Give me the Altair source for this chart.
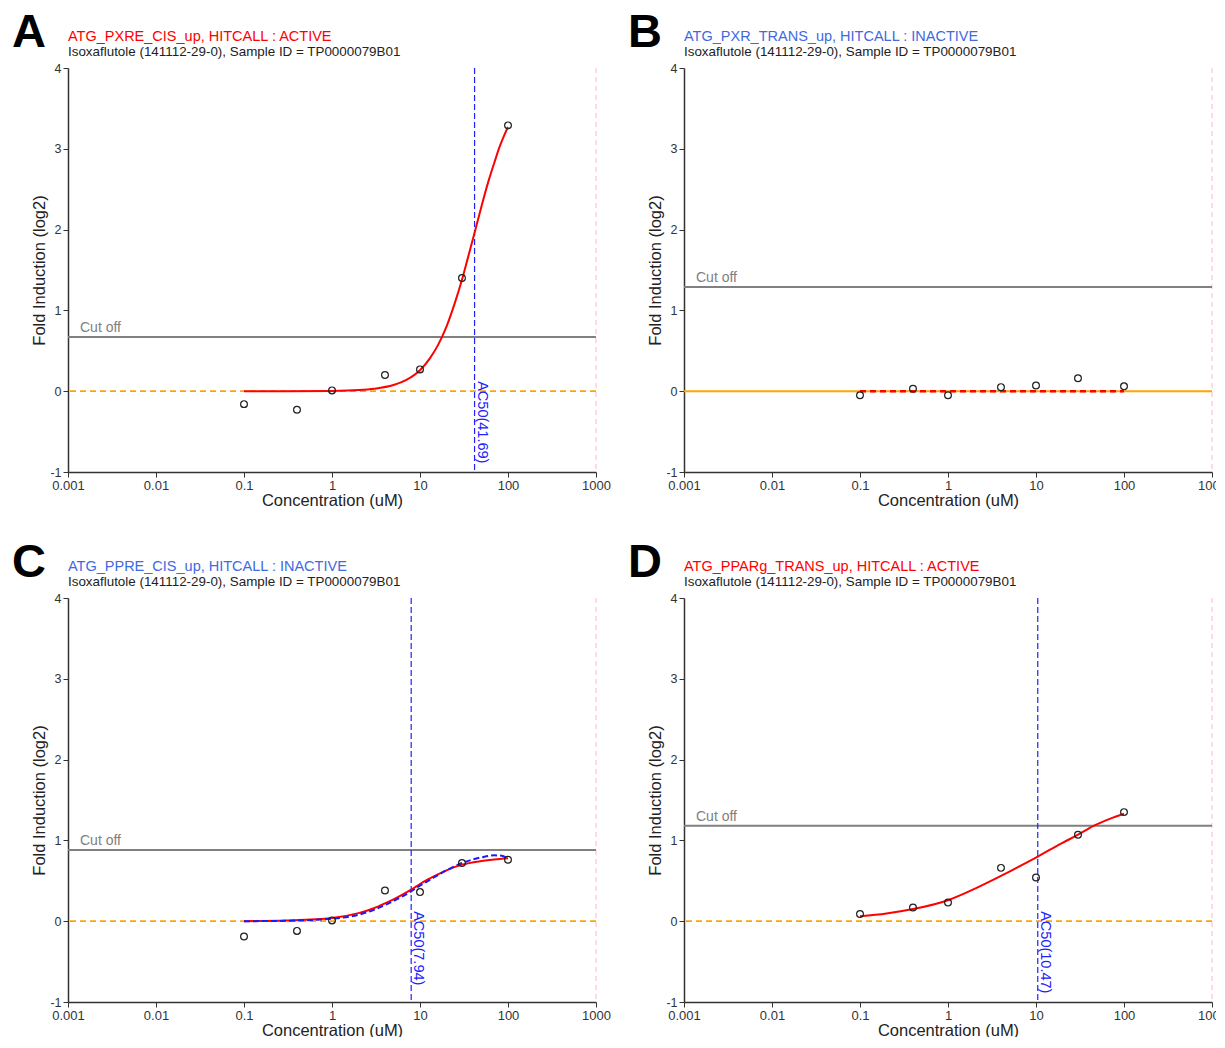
import altair as alt
import pandas as pd

# ---------------- data ----------------
conc = [0.1, 0.4, 1, 4, 10, 30, 100]

resp_A = [-0.16, -0.23, 0.01, 0.20, 0.27, 1.40, 3.29]
resp_B = [-0.05, 0.03, -0.05, 0.05, 0.07, 0.16, 0.06]
resp_C = [-0.19, -0.12, 0.01, 0.38, 0.36, 0.72, 0.76]
resp_D = [0.09, 0.17, 0.23, 0.66, 0.54, 1.07, 1.35]

fit_conc_A = [0.1, 0.3, 1, 2, 3, 5, 7, 10, 13, 16, 20, 25, 30, 35, 41.69, 50, 60, 70, 80, 90, 100]
fit_resp_A = [0.0, 0.0, 0.004, 0.014, 0.03, 0.076, 0.14, 0.26, 0.41, 0.57, 0.80, 1.10, 1.38, 1.65,
              1.96, 2.29, 2.60, 2.83, 3.02, 3.16, 3.27]

fit_conc_B = [0.1, 100]
fit_resp_B = [0.0, 0.0]

fit_conc_C = [0.1, 0.3, 1, 2, 3, 4, 5, 7.94, 10, 12, 20, 30, 50, 70, 100]
fit_resp_C = [0.0, 0.01, 0.04, 0.10, 0.16, 0.22, 0.27, 0.39, 0.46, 0.51, 0.63, 0.70, 0.745, 0.765, 0.78]

fit2_conc_C = [0.1, 0.3, 1, 2, 3, 4, 5, 7.94, 10, 12, 20, 30, 50, 70, 85, 100]
fit2_resp_C = [0.0, 0.005, 0.03, 0.08, 0.14, 0.20, 0.25, 0.37, 0.44, 0.49, 0.63, 0.72, 0.79, 0.815, 0.81, 0.77]

fit_conc_D = [0.1, 0.2, 0.4, 1, 2, 4, 6, 10.47, 20, 30, 45, 70, 100]
fit_resp_D = [0.06, 0.095, 0.15, 0.26, 0.40, 0.56, 0.66, 0.80, 0.97, 1.07, 1.18, 1.27, 1.33]

letters = ["A", "B", "C", "D"]
assays = ["ATG_PXRE_CIS_up", "ATG_PXR_TRANS_up", "ATG_PPRE_CIS_up", "ATG_PPARg_TRANS_up"]
hitcalls = ["ACTIVE", "INACTIVE", "INACTIVE", "ACTIVE"]
cutoffs = [0.67, 1.29, 0.88, 1.18]
ac50s = [41.69, None, 7.94, 10.47]
subtitle = "Isoxaflutole (141112-29-0), Sample ID = TP0000079B01"

x_ticks = [0.001, 0.01, 0.1, 1, 10, 100, 1000]
y_ticks = [-1, 0, 1, 2, 3, 4]

# ---------------- styling ----------------
FONT = "Liberation Sans"
RED = "#ff0000"
BLUE_TITLE = "#4169e1"
AC50_BLUE = "#2020ff"

xs = alt.Scale(type="log", domain=[0.001, 1000])
ys = alt.Scale(domain=[-1, 4], nice=False, zero=False)

xaxis = alt.Axis(values=x_ticks, format="~g", grid=False, tickSize=5, tickColor="#333",
                 domainColor="#333", domainWidth=1.5, labelFontSize=13, labelColor="#333",
                 labelPadding=2, labelFlush=False, labelOverlap=False,
                 titleFontSize=16.5, titleFontWeight="normal", titleColor="#222",
                 titlePadding=0)
yaxis = alt.Axis(values=y_ticks, labelExpr="'' + datum.value", grid=False, tickSize=5,
                 tickColor="#333", domainColor="#333", domainWidth=1.5, labelFontSize=12.5,
                 labelColor="#333", labelPadding=2, labelFlush=False,
                 titleFontSize=16.5, titleFontWeight="normal", titleColor="#222",
                 titlePadding=2)

X = lambda f="conc": alt.X(f"{f}:Q", scale=xs, axis=xaxis, title="Concentration (uM)")
Y = lambda f="resp": alt.Y(f"{f}:Q", scale=ys, axis=yaxis, title="Fold Induction (log2)")

one = pd.DataFrame({"k": [0]})


def panel(i, resp, fits):
    layers = []
    # pink dashed line at upper concentration limit
    layers.append(alt.Chart(one).mark_rule(color="#ffb6c1", strokeWidth=1, strokeDash=[5, 4])
                  .encode(x=alt.datum(1000)))
    # zero baseline (dashed when a curve is active, solid for the flat fit)
    if ac50s[i] is not None:
        zero = alt.Chart(one).mark_rule(color="#ffa500", strokeWidth=1.8, strokeDash=[6, 4])
    else:
        zero = alt.Chart(one).mark_rule(color="#ffa500", strokeWidth=2)
    layers.append(zero.encode(y=alt.datum(0)))
    # cutoff
    layers.append(alt.Chart(one).mark_rule(color="#808080", strokeWidth=2)
                  .encode(y=alt.datum(cutoffs[i])))
    layers.append(alt.Chart(one).mark_text(text="Cut off", align="left", baseline="alphabetic",
                                           fontSize=14, color="#808080", dy=-5, font=FONT)
                  .encode(x=alt.value(12), y=alt.datum(cutoffs[i])))
    # AC50
    if ac50s[i] is not None:
        layers.append(alt.Chart(one).mark_rule(color=AC50_BLUE, strokeWidth=1.2, strokeDash=[6, 3])
                      .encode(x=alt.datum(ac50s[i])))
        layers.append(alt.Chart(one).mark_text(text=f"AC50({ac50s[i]:.2f})", angle=90, align="left",
                                               baseline="bottom", fontSize=14.5, color=AC50_BLUE,
                                               dx=-10, dy=0, font=FONT)
                      .encode(x=alt.datum(ac50s[i]), y=alt.datum(0)))
    # fitted curves
    for fc, fr, color, dash, w in fits:
        df = pd.DataFrame({"conc": fc, "resp": fr})
        kw = dict(color=color, strokeWidth=w, interpolate="monotone")
        if dash:
            kw["strokeDash"] = dash
        layers.append(alt.Chart(df).mark_line(**kw).encode(x=X(), y=Y()))
    # points
    pdf = pd.DataFrame({"conc": conc, "resp": resp})
    layers.append(alt.Chart(pdf).mark_point(shape="circle", filled=False, size=46, color="#222",
                                            strokeWidth=1.2, opacity=1)
                  .encode(x=X(), y=Y()))
    # titles & panel letter
    tcolor = RED if hitcalls[i] == "ACTIVE" else BLUE_TITLE
    layers.append(alt.Chart(one).mark_text(text=f"{assays[i]}, HITCALL : {hitcalls[i]}", align="left",
                                           baseline="middle", fontSize=14.5, color=tcolor, font=FONT)
                  .encode(x=alt.value(0), y=alt.value(-31)))
    layers.append(alt.Chart(one).mark_text(text=subtitle, align="left", baseline="middle",
                                           fontSize=13.4, color="#222", font=FONT)
                  .encode(x=alt.value(0), y=alt.value(-16)))
    layers.append(alt.Chart(one).mark_text(text=letters[i], align="left", baseline="alphabetic",
                                           fontSize=47, fontWeight="bold", color="#000", font=FONT)
                  .encode(x=alt.value(-56), y=alt.value(-21)))
    return alt.layer(*layers).properties(width=528, height=404)


pA = panel(0, resp_A, [(fit_conc_A, fit_resp_A, RED, None, 2)])
pB = panel(1, resp_B, [(fit_conc_B, fit_resp_B, RED, [6, 4], 2.5)])
pC = panel(2, resp_C, [(fit_conc_C, fit_resp_C, RED, None, 2),
                       (fit2_conc_C, fit2_resp_C, "#1a1aff", [6, 3], 2)])
pD = panel(3, resp_D, [(fit_conc_D, fit_resp_D, RED, None, 2)])

chart = alt.concat(pA, pB, pC, pD, columns=2, spacing={"row": 126, "column": 88},
                   bounds="flush").properties(
    padding={"left": 4, "top": 1, "right": -11, "bottom": -2}
).configure(font=FONT).configure_view(stroke=None)

chart.save("out.html", embed_options={"renderer": "svg", "actions": False})
